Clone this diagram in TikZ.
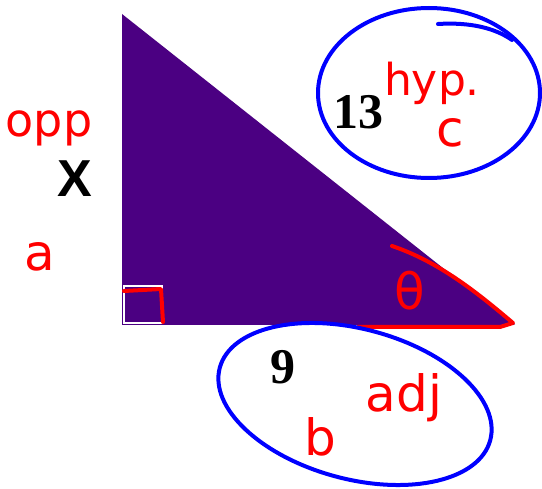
\documentclass[tikz,border=0pt]{standalone}
\usepackage{fontspec}
\setmainfont{Liberation Serif}
\setsansfont{Liberation Sans}
\newfontfamily\handfont{DejaVu Sans}
\usetikzlibrary{positioning}
\definecolor{indigo}{HTML}{4B0082}
\definecolor{penred}{HTML}{FF0000}
\definecolor{penblue}{HTML}{0000FF}

\begin{document}
\begin{tikzpicture}[x=1pt,y=-1pt,
  pen/.style={line width=4pt,line cap=round,line join=round},
  side/.style={font=\bfseries\fontsize{50}{52}\selectfont,inner sep=0pt},
  note/.style={text=penred,font=\handfont\fontsize{50}{52}\selectfont,inner sep=0pt}]
\useasboundingbox (0,0) rectangle (542,489);
\coordinate (top) at (122,14);
\coordinate (corner) at (122,325);
\coordinate (tip) at (515,325);
\fill[indigo] (top) -- (corner) -- (tip) -- cycle;
\draw[white,line width=2pt] (124,286) rectangle (162,323);
\draw[penred,pen] (124,291) -- (161,289) -- (163,322);
\draw[penred,pen] (392,246) .. controls (440,262) and (480,295) .. (513,323) -- (500,327) -- (358,327);
\draw[penblue,pen] (429,93) ellipse [x radius=111pt, y radius=85pt];
\draw[penblue,pen] (438,24) .. controls (470,22) and (495,28) .. (512,40);
\draw[penblue,pen,shift={(355,404)},rotate=-15] (0,0) ellipse [x radius=140pt, y radius=75pt];
\node[side] (hyp) at (358,112) {13};
\node[side] (adj) at (283,367) {9};
\node[font=\sffamily\bfseries\fontsize{52}{54}\selectfont,inner sep=0pt] (opp) at (75,179) {X};
\node[note,font=\handfont\fontsize{46}{48}\selectfont] (opplbl) at (49,128) {opp};
\node[note] (a) at (40,257) {a};
\node[note,font=\handfont\fontsize{44}{46}\selectfont] (hyplbl) at (432,83) {hyp.};
\node[note] (c) at (450,133) {c};
\node[note] (adjlbl) at (404,398) {adj};
\node[note] (b) at (320,437) {b};
\node[note] (theta) at (410,291) {θ};
\end{tikzpicture}
\end{document}
